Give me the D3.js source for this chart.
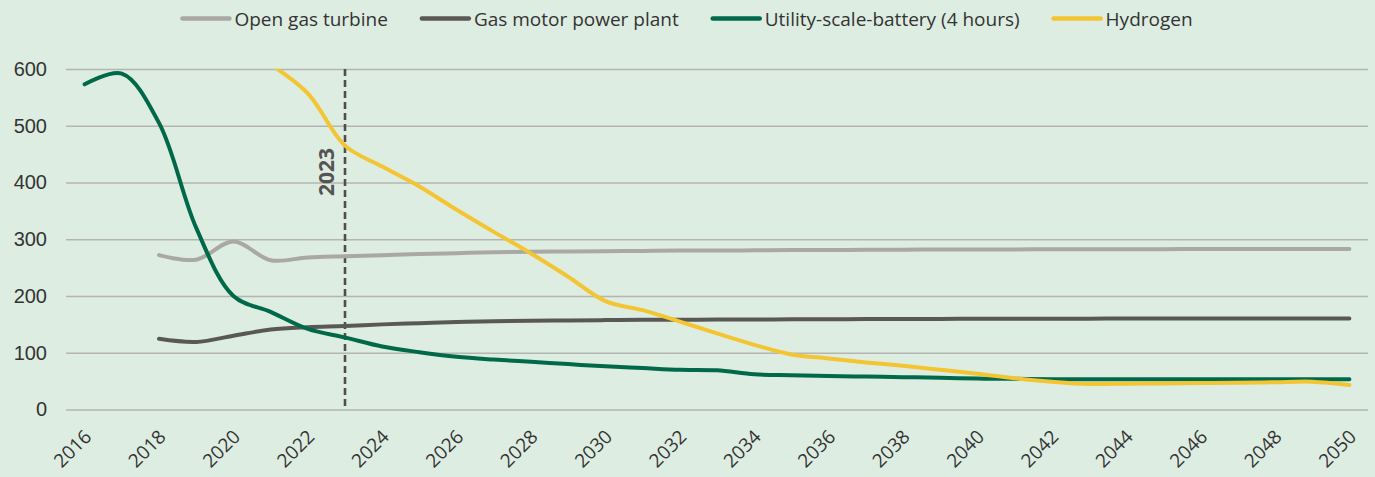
<!DOCTYPE html>
<html>
<head>
<meta charset="utf-8">
<script src="https://cdn.jsdelivr.net/npm/d3@7"></script>
<style>
  body { margin: 0; background: #deede2; }
  svg { display: block; font-family: "Open Sans", sans-serif; }
</style>
</head>
<body>
<div class="canvas"></div>
<script>
const years = [2016, 2017, 2018, 2019, 2020, 2021, 2022, 2023, 2024, 2025,
    2026, 2027, 2028, 2029, 2030, 2031, 2032, 2033, 2034, 2035,
    2036, 2037, 2038, 2039, 2040, 2041, 2042, 2043, 2044, 2045,
    2046, 2047, 2048, 2049, 2050]

const yearLabels = [2016, 2018, 2020, 2022, 2024, 2026, 2028, 2030, 2032,
    2034, 2036, 2038, 2040, 2042, 2044, 2046, 2048, 2050]

const yTicks = [0, 100, 200, 300, 400, 500, 600]

const openGasTurbine = [null, null, 272, 264, 296, 263, 268, 270, 272, 274,
    275.5, 277, 278, 278.5, 279, 279.5, 280, 280, 280.5, 281,
    281, 281.5, 281.5, 282, 282, 282, 282.5, 282.5, 282.5, 282.5,
    283, 283, 283, 283, 283]

const gasMotorPlant = [null, null, 124.5, 119, 130, 141, 145, 147, 150, 152,
    154, 155.5, 156.5, 157, 157.5, 158, 158, 158.5, 158.5, 159,
    159, 159.5, 159.5, 159.5, 160, 160, 160, 160, 160.5, 160.5,
    160.5, 160.5, 160.5, 160.5, 160.5]

const battery = [573, 592, 505, 320, 200, 172, 142, 127, 111, 101,
    93, 88, 84, 80, 76, 73, 70, 69, 62, 60.5,
    59, 58, 57, 56, 54.5, 54, 53.5, 53.5, 53.5, 53.5,
    53.5, 53.5, 53.5, 53.5, 53.5]

const hydrogen = [null, null, null, null, null, 608, 557, 465, 428, 393,
    352, 313, 275, 234, 191, 175, 155, 134, 114, 97,
    90, 83, 77, 70, 63, 55, 49, 45, 45.5, 46,
    46.5, 47, 48, 49, 43]

const markerYear = 2023

const series = [
    { name: 'Open gas turbine', values: openGasTurbine, colour: '#a9a8a4' },
    { name: 'Gas motor power plant', values: gasMotorPlant, colour: '#5a5854' },
    { name: 'Utility-scale-battery (4 hours)', values: battery, colour: '#00694a' },
    { name: 'Hydrogen', values: hydrogen, colour: '#f3c532' }
]

const dims = { width: 1375, height: 477 }
const plot = { left: 66, right: 1368, top: 69, bottom: 409.5 }

const svg = d3.select('.canvas')
    .append('svg')
    .attr('width', dims.width)
    .attr('height', dims.height)

svg.append('rect')
    .attr('width', dims.width)
    .attr('height', dims.height)
    .attr('fill', '#deede2')

const x = d3.scalePoint()
    .domain(years)
    .range([plot.left, plot.right])
    .padding(0.5)

const y = d3.scaleLinear()
    .domain([0, 600])
    .range([plot.bottom, plot.top])

// gridlines + y labels
const yAxis = d3.axisLeft(y)
    .tickValues(yTicks)
    .tickSize(-(plot.right - plot.left))
    .tickPadding(19)

svg.append('g')
    .attr('transform', `translate(${plot.left}, 0)`)
    .call(yAxis)
    .call(g => g.select('.domain').remove())
    .call(g => g.selectAll('line').attr('stroke', '#b4b5b1').attr('stroke-width', 1.5))
    .call(g => g.selectAll('text')
        .attr('fill', '#333333')
        .style('font-size', '20px'))

// x labels, rotated
svg.append('g')
    .selectAll('text')
    .data(yearLabels)
    .enter()
    .append('text')
    .attr('transform', d => `translate(${x(d) + 8}, 438) rotate(-45)`)
    .attr('text-anchor', 'end')
    .attr('fill', '#333333')
    .style('font-size', '19px')
    .text(d => d)

// 2023 marker
svg.append('line')
    .attr('x1', x(markerYear))
    .attr('x2', x(markerYear))
    .attr('y1', y(600))
    .attr('y2', y(0))
    .attr('stroke', '#4f4e4c')
    .attr('stroke-width', 2.6)
    .attr('stroke-dasharray', '7,4')

svg.append('text')
    .attr('transform', `translate(${x(markerYear) - 11}, 172) rotate(-90)`)
    .attr('text-anchor', 'middle')
    .attr('fill', '#555452')
    .style('font-size', '21px')
    .style('font-weight', 700)
    .text(markerYear)

// lines
svg.append('clipPath')
    .attr('id', 'plot-clip')
    .append('rect')
    .attr('x', 0)
    .attr('y', plot.top)
    .attr('width', dims.width)
    .attr('height', plot.bottom - plot.top + 20)

const line = d3.line()
    .defined(d => d.v !== null)
    .x(d => x(d.year))
    .y(d => y(d.v))
    .curve(d3.curveCatmullRom.alpha(0.5))

svg.append('g')
    .attr('clip-path', 'url(#plot-clip)')
    .selectAll('path')
    .data(series)
    .enter()
    .append('path')
    .attr('d', s => line(years.map((yr, i) => ({ year: yr, v: s.values[i] }))))
    .attr('fill', 'none')
    .attr('stroke', s => s.colour)
    .attr('stroke-width', 4)
    .attr('stroke-linecap', 'round')

// legend
const legend = svg.append('g')
const swatch = 47
const gap = 5
const itemGap = 34

let cursor = 0
series.forEach(s => {
    const item = legend.append('g').attr('transform', `translate(${cursor}, 0)`)
    item.append('line')
        .attr('x1', 0)
        .attr('x2', swatch)
        .attr('y1', 18.5)
        .attr('y2', 18.5)
        .attr('stroke', s.colour)
        .attr('stroke-width', 4.5)
        .attr('stroke-linecap', 'round')
    const label = item.append('text')
        .attr('x', swatch + gap)
        .attr('y', 25.5)
        .attr('fill', '#333333')
        .style('font-size', '19px')
        .text(s.name)
    cursor += swatch + gap + label.node().getComputedTextLength() + itemGap
})
cursor -= itemGap
legend.attr('transform', `translate(${dims.width / 2 - cursor / 2}, 0)`)
</script>
</body>
</html>
